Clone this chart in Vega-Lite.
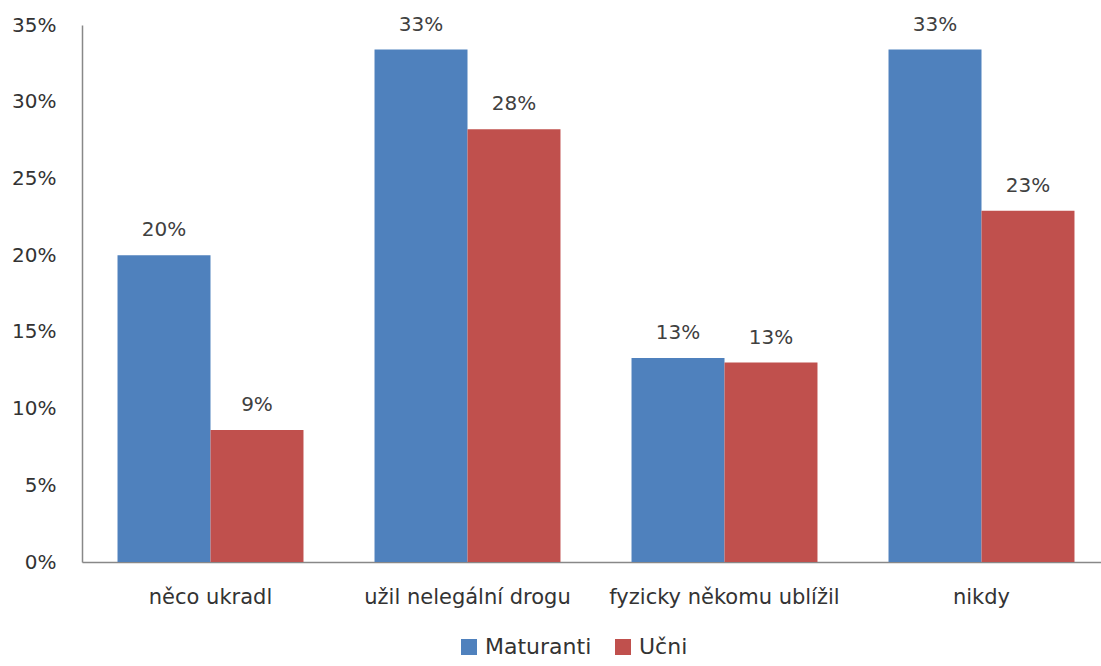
{
  "$schema": "https://vega.github.io/schema/vega-lite/v6.json",
  "autosize": {"type": "none"},
  "padding": {"left": 82, "top": 25, "right": 0, "bottom": 104},
  "width": 1028,
  "height": 537,
  "background": "white",
  "config": {
    "font": "DejaVu Sans",
    "view": {"stroke": null}
  },
  "data": {
    "values": [
      {"kategorie": "něco ukradl", "skupina": "Maturanti", "podil": 0.200},
      {"kategorie": "něco ukradl", "skupina": "Učni", "podil": 0.086},
      {"kategorie": "užil nelegální drogu", "skupina": "Maturanti", "podil": 0.334},
      {"kategorie": "užil nelegální drogu", "skupina": "Učni", "podil": 0.282},
      {"kategorie": "fyzicky někomu ublížil", "skupina": "Maturanti", "podil": 0.133},
      {"kategorie": "fyzicky někomu ublížil", "skupina": "Učni", "podil": 0.130},
      {"kategorie": "nikdy", "skupina": "Maturanti", "podil": 0.334},
      {"kategorie": "nikdy", "skupina": "Učni", "podil": 0.229}
    ]
  },
  "encoding": {
    "x": {
      "field": "kategorie",
      "type": "nominal",
      "sort": null,
      "scale": {"paddingInner": 0, "paddingOuter": 0},
      "axis": {
        "title": null,
        "labelAngle": 0,
        "labelFontSize": 21,
        "labelColor": "#333333",
        "labelPadding": 24,
        "labelLimit": 400,
        "ticks": false,
        "domainColor": "#888888",
        "domainWidth": 1.5
      }
    },
    "xOffset": {
      "field": "skupina",
      "type": "nominal",
      "sort": ["Maturanti", "Učni"],
      "scale": {"paddingInner": 0, "paddingOuter": 0.382}
    },
    "y": {
      "field": "podil",
      "type": "quantitative",
      "scale": {"domain": [0, 0.35], "nice": false},
      "axis": {
        "title": null,
        "values": [0, 0.05, 0.1, 0.15, 0.2, 0.25, 0.3, 0.35],
        "format": ".0%",
        "grid": false,
        "ticks": false,
        "labelFontSize": 20,
        "labelColor": "#333333",
        "labelPadding": 26,
        "domainColor": "#888888",
        "domainWidth": 1.5
      }
    }
  },
  "layer": [
    {
      "mark": {"type": "bar"},
      "encoding": {
        "color": {
          "field": "skupina",
          "type": "nominal",
          "sort": ["Maturanti", "Učni"],
          "scale": {"domain": ["Maturanti", "Učni"], "range": ["#4F81BD", "#C0504D"]},
          "legend": {
            "title": null,
            "orient": "none",
            "direction": "horizontal",
            "legendX": 376,
            "legendY": 611,
            "symbolType": "square",
            "symbolSize": 256,
            "symbolStrokeWidth": 0,
            "labelFontSize": 22,
            "labelColor": "#333333",
            "columnPadding": 20,
            "labelOffset": 5
          }
        }
      }
    },
    {
      "mark": {"type": "text", "baseline": "bottom", "dy": -15, "fontSize": 20, "color": "#404040"},
      "encoding": {
        "text": {"field": "podil", "type": "quantitative", "format": ".0%"}
      }
    }
  ]
}
